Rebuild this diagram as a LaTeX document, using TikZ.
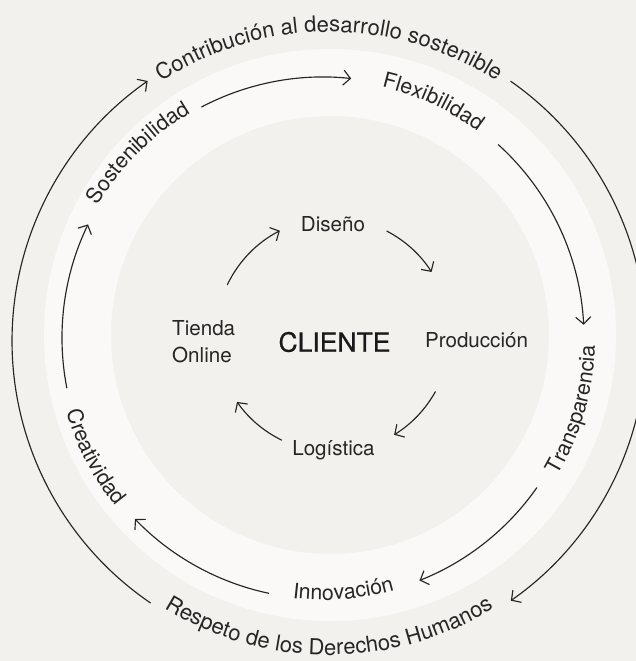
\documentclass[tikz,border=0pt]{standalone}
\usepackage{fontspec}
\setmainfont{TeX Gyre Heros}
\newfontfamily\clifont[FakeBold=0.6]{TeX Gyre Heros}
\usetikzlibrary{arrows.meta,decorations.text,calc}
\definecolor{bgc}{HTML}{F3F1EE}
\definecolor{bandc}{HTML}{FAF9F8}
\definecolor{ink}{HTML}{262626}
\newcommand\ringfnt{\fontsize{22}{26}\selectfont\color{ink}}
\newcommand\bandfnt{\fontsize{21.3}{25}\selectfont\color{ink}}
\begin{document}
\begin{tikzpicture}[x=1pt,y=1pt,
  conn/.style={draw=ink, line width=1.15pt, line cap=round, -{Straight Barb[length=7pt,width=15pt]}},
  lbl/.style={text=ink, font=\fontsize{20.6}{27}\selectfont, inner sep=0pt},
  ringtext/.style={decorate, decoration={text along path, text align=center, text={|\ringfnt|#1}}},
  bandtext/.style={decorate, decoration={text along path, text align=center, text={|\bandfnt|#1}}}]
\fill[bgc] (0,0) rectangle (636,661);
\useasboundingbox (0,0) rectangle (636,661);
\coordinate (O) at (329,320);
\coordinate (B) at (323,323);
\coordinate (I) at (333,326);
\fill[bandc, even odd rule] (330,326) circle[radius=286pt] (330,326) circle[radius=219pt];

% outer ring texts
\path[ringtext={Contribución al desarrollo sostenible}] ($(O)+(150:309pt)$) arc[start angle=150, end angle=30, radius=309pt];
\path[ringtext={Respeto de los Derechos Humanos}] ($(O)+(210:314pt)$) arc[start angle=210, end angle=330, radius=314pt];

% outer connectors
\coordinate (o1) at ($(O)+(235.7:317pt)$);
\draw[conn] (o1) arc[start angle=235.7, end angle=124.9, radius=317pt];
\coordinate (o2) at ($(O)+(55:317pt)$);
\draw[conn] (o2) arc[start angle=55, end angle=-55, radius=317pt];

% band texts
\path[bandtext={Sostenibilidad}] ($(B)+(175:261pt)$) arc[start angle=175, end angle=95, radius=261pt];
\path[bandtext={Flexibilidad}] ($(B)+(105:258pt)$) arc[start angle=105, end angle=25, radius=258pt];
\path[bandtext={Transparencia}] ($(B)+(-56:272pt)$) arc[start angle=-56, end angle=24, radius=272pt];
\path[bandtext={Innovación}] ($(B)+(234.6:262pt)$) arc[start angle=234.6, end angle=314.6, radius=262pt];
\path[bandtext={Creatividad}] ($(B)+(167.5:267pt)$) arc[start angle=167.5, end angle=247.5, radius=267pt];

% band connectors
\coordinate (b1) at ($(B)+(117.7:261pt)$);
\draw[conn] (b1) arc[start angle=117.7, end angle=83.8, radius=261pt];
\coordinate (b2) at ($(B)+(47.8:261pt)$);
\draw[conn] (b2) arc[start angle=47.8, end angle=2.9, radius=261pt];
\coordinate (b3) at ($(B)+(-35:261pt)$);
\draw[conn] (b3) arc[start angle=-35, end angle=-68.3, radius=261pt];
\coordinate (b4) at ($(B)+(258:261pt)$);
\draw[conn] (b4) arc[start angle=258, end angle=223.9, radius=261pt];
\coordinate (b5) at ($(B)+(191:261pt)$);
\draw[conn] (b5) arc[start angle=191, end angle=154.2, radius=261pt];

% inner labels
\node[lbl, anchor=base] (diseno) at (333,429) {Diseño};
\node[lbl, anchor=base] (produccion) at (476.5,313) {Producción};
\node[lbl, anchor=base] (logistica) at (333.5,205) {Logística};
\node[lbl, font=\clifont\fontsize{26.5}{30}\selectfont, text=black!90, anchor=base] (cliente) at (334.5,309.3) {CLIENTE};
\node[lbl, align=left, anchor=west] (tienda) at (172,319.5) {Tienda\\Online};

% inner connectors
\coordinate (i1) at ($(I)+(154.5:117pt)$);
\draw[conn] (i1) arc[start angle=154.5, end angle=117, radius=117pt];
\coordinate (i2) at ($(I)+(62.6:117pt)$);
\draw[conn] (i2) arc[start angle=62.6, end angle=32.6, radius=117pt];
\coordinate (i3) at ($(I)+(-29:117pt)$);
\draw[conn] (i3) arc[start angle=-29, end angle=-58.5, radius=117pt];
\coordinate (i4) at ($(I)+(243.9:117pt)$);
\draw[conn] (i4) arc[start angle=243.9, end angle=214.9, radius=117pt];
\end{tikzpicture}
\end{document}
